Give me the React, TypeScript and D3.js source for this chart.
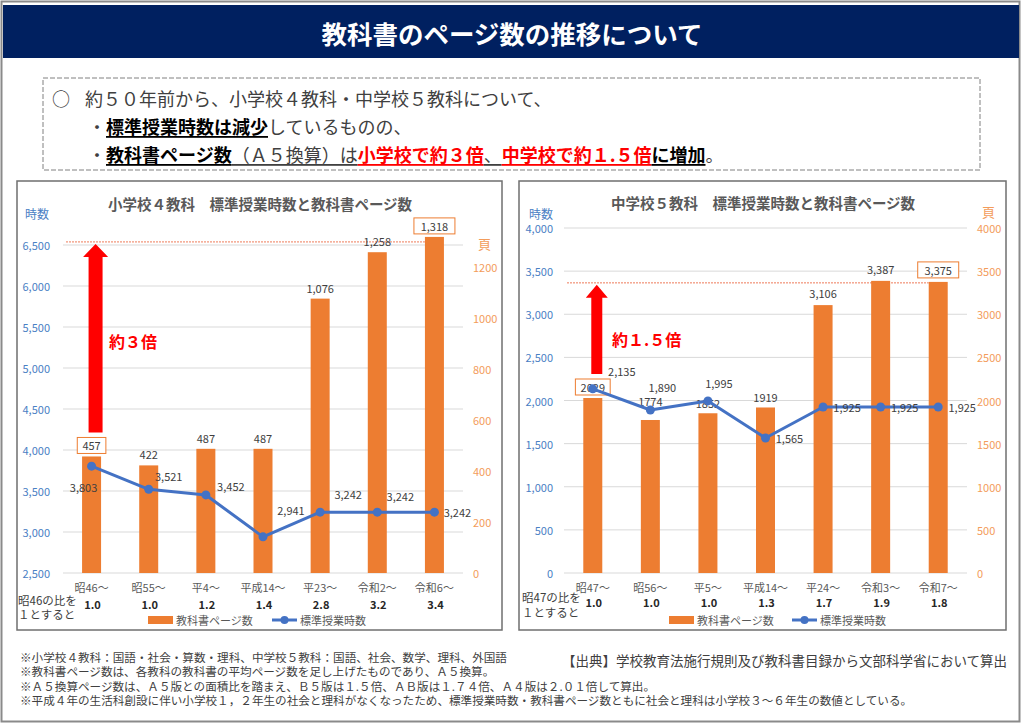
import React from 'react';
import * as d3 from 'd3';

// ---------- data ----------
const catsL = ['昭46～', '昭55～', '平4～', '平成14～', '平23～', '令和2～', '令和6～'];
const pagesL = [457, 422, 487, 487, 1076, 1258, 1318];
const hoursL = [3803, 3521, 3452, 2941, 3242, 3242, 3242];
const ratioL = ['1.0', '1.0', '1.2', '1.4', '2.8', '3.2', '3.4'];
const hourTicksL = [2500, 3000, 3500, 4000, 4500, 5000, 5500, 6000, 6500];
const pageTicksL = [0, 200, 400, 600, 800, 1000, 1200];

const catsR = ['昭47～', '昭56～', '平5～', '平成14～', '平24～', '令和3～', '令和7～'];
const pagesR = [2029, 1774, 1852, 1919, 3106, 3387, 3375];
const pageLabelsR = ['2029', '1774', '1852', '1919', '3,106', '3,387', '3,375'];
const hoursR = [2135, 1890, 1995, 1565, 1925, 1925, 1925];
const ratioR = ['1.0', '1.0', '1.0', '1.3', '1.7', '1.9', '1.8'];
const hourTicksR = [0, 500, 1000, 1500, 2000, 2500, 3000, 3500, 4000];
const pageTicksR = [0, 500, 1000, 1500, 2000, 2500, 3000, 3500, 4000];

const footnotes = [
  '※小学校４教科：国語・社会・算数・理科、中学校５教科：国語、社会、数学、理科、外国語',
  '※教科書ページ数は、各教科の教科書の平均ページ数を足し上げたものであり、Ａ５換算。',
  '※Ａ５換算ページ数は、Ａ５版との面積比を踏まえ、Ｂ５版は１.５倍、ＡＢ版は１.７４倍、Ａ４版は２.０１倍して算出。',
  '※平成４年の生活科創設に伴い小学校１，２年生の社会と理科がなくなったため、標準授業時数・教科書ページ数ともに社会と理科は小学校３～６年生の数値としている。',
];

// ---------- style ----------
const FONT = '"Noto Sans CJK JP", "Noto Sans", sans-serif';
const ORANGE = '#ED7D31';
const BLUE = '#4472C4';
const TICK_BLUE = '#4A80C4';
const TICK_ORANGE = '#F39C5B';
const GRID = '#D9D9D9';
const TXT = '#404040';

type ChartProps = {
  panel: [number, number, number, number];
  title: string;
  titleX: number;
  titleY: number;
  cats: string[];
  pages: number[];
  pageLabels: string[];
  hours: number[];
  ratios: string[];
  hourTicks: number[];
  pageTicks: number[];
  hourFmt: (v: number) => string;
  xRange: [number, number];
  hourDomain: [number, number];
  hourRange: [number, number];
  pageDomain: [number, number];
  pageRange: [number, number];
  tickX: number;
  rightTickX: number;
  jisuPos: [number, number];
  pagePos: [number, number];
  notePos: [number, number, number];
  ratioY: number;
  legendRectX: number;
  legendLineX: number;
  lineLabelOff: [number, number][];
  barLift: number[];
  arrowHalf: [number, number];
  arrowText: string;
  arrowTextPos: [number, number];
  refOffset: number;
};

function Chart(p: ChartProps) {
  const x = d3.scalePoint<string>().domain(p.cats).range(p.xRange).padding(0.5);
  const yH = d3.scaleLinear().domain(p.hourDomain).range(p.hourRange);
  const yP = d3.scaleLinear().domain(p.pageDomain).range(p.pageRange);
  const barW = 19;
  const base = yP(0);
  const line = d3
    .line<number>()
    .x((_, i) => x(p.cats[i]) as number)
    .y((d) => yH(d));
  const n = p.cats.length;
  const refY = yP(d3.max(p.pages) as number) + p.refOffset;
  const lastX = (x(p.cats[n - 1]) as number) - barW / 2;
  const firstX = x(p.cats[0]) as number;
  const arrowCx = firstX + 4;
  const boxTop = yP(p.pages[0]) - p.barLift[0] - 8;
  const [sh, hh] = p.arrowHalf;
  const arrowPath = `M${arrowCx - sh},${boxTop - 5} L${arrowCx - sh},${refY + 15} L${arrowCx - hh},${refY + 15} L${arrowCx},${refY + 2} L${arrowCx + hh},${refY + 15} L${arrowCx + sh},${refY + 15} L${arrowCx + sh},${boxTop - 5} Z`;

  return (
    <g fontFamily={FONT}>
      <rect x={p.panel[0]} y={p.panel[1]} width={p.panel[2]} height={p.panel[3]} fill="#fff" stroke="#6f6f6f" strokeWidth={1.5} />
      <text x={p.titleX} y={p.titleY} textAnchor="middle" dominantBaseline="central" fontSize={14.5} fontWeight={700} fill="#595959">
        {p.title}
      </text>
      <text x={p.jisuPos[0]} y={p.jisuPos[1]} dominantBaseline="central" fontSize={12} fill={TICK_BLUE}>時数</text>
      <text x={p.pagePos[0]} y={p.pagePos[1]} dominantBaseline="central" fontSize={13} fill={TICK_ORANGE}>頁</text>
      {/* grid */}
      {p.hourTicks.map((t) => (
        <g key={t}>
          <line x1={p.xRange[0]} x2={p.xRange[1]} y1={yH(t)} y2={yH(t)} stroke={GRID} strokeWidth={1} />
          <text x={p.tickX} y={yH(t)} textAnchor="end" dominantBaseline="central" fontSize={11} fill={TICK_BLUE}>
            {p.hourFmt(t)}
          </text>
        </g>
      ))}
      {p.pageTicks.map((t) => (
        <text key={t} x={p.rightTickX} y={yP(t)} dominantBaseline="central" fontSize={11} fill={TICK_ORANGE}>
          {t}
        </text>
      ))}
      {/* reference dotted line */}
      <line x1={p.xRange[0] + 3} x2={lastX} y1={refY} y2={refY} stroke="#EE7B5A" strokeWidth={1} strokeDasharray="2,1" />
      {/* bars */}
      {p.pages.map((v, i) => (
        <rect key={i} x={(x(p.cats[i]) as number) - barW / 2} y={yP(v)} width={barW} height={base - yP(v)} fill={ORANGE} />
      ))}
      {/* bar labels */}
      {p.pages.map((v, i) => {
        const cx = x(p.cats[i]) as number;
        const cy = yP(v) - p.barLift[i];
        const boxed = i === 0 || i === n - 1;
        const w = p.pageLabels[i].length * 6.2 + 10;
        return (
          <g key={i}>
            {boxed && <rect x={cx - w / 2} y={cy - 8} width={w} height={16} fill="#fff" stroke={ORANGE} strokeWidth={1} />}
            <text x={cx} y={cy} textAnchor="middle" dominantBaseline="central" fontSize={11} fill={TXT}>
              {p.pageLabels[i]}
            </text>
          </g>
        );
      })}
      {/* line */}
      <path d={line(p.hours) || ''} fill="none" stroke={BLUE} strokeWidth={3} strokeLinejoin="round" />
      {p.hours.map((v, i) => (
        <circle key={i} cx={x(p.cats[i]) as number} cy={yH(v)} r={4.5} fill={BLUE} />
      ))}
      {p.hours.map((v, i) => (
        <text
          key={i}
          x={(x(p.cats[i]) as number) + p.lineLabelOff[i][0]}
          y={yH(v) + p.lineLabelOff[i][1]}
          textAnchor="middle"
          dominantBaseline="central"
          fontSize={11}
          fill={TXT}
        >
          {d3.format(',')(v)}
        </text>
      ))}
      {/* arrow */}
      <path d={arrowPath} fill="#FF0000" />
      <text x={p.arrowTextPos[0]} y={p.arrowTextPos[1]} dominantBaseline="central" fontSize={16} fontWeight={700} fill="#FF0000">
        {p.arrowText}
      </text>
      {/* x labels */}
      {p.cats.map((c, i) => (
        <g key={c}>
          <text x={x(c) as number} y={587} textAnchor="middle" dominantBaseline="central" fontSize={11} fill="#595959">
            {c}
          </text>
          <text x={(x(c) as number) + 1} y={p.ratioY} textAnchor="middle" dominantBaseline="central" fontSize={11} fontWeight={700} fill="#262626">
            {p.ratios[i]}
          </text>
        </g>
      ))}
      <text x={p.notePos[0]} y={p.notePos[1]} dominantBaseline="central" fontSize={11.5} fill={TXT}>
        {p.cats[0].replace('～', '')}の比を
      </text>
      <text x={p.notePos[0]} y={p.notePos[2]} dominantBaseline="central" fontSize={11.5} fill={TXT}>
        １とすると
      </text>
      {/* legend */}
      <rect x={p.legendRectX} y={616} width={25} height={8} fill={ORANGE} />
      <text x={p.legendRectX + 28} y={620} dominantBaseline="central" fontSize={11} fill="#595959">教科書ページ数</text>
      <line x1={p.legendLineX} x2={p.legendLineX + 25} y1={620} y2={620} stroke={BLUE} strokeWidth={3} />
      <circle cx={p.legendLineX + 12.5} cy={620} r={4} fill={BLUE} />
      <text x={p.legendLineX + 28} y={620} dominantBaseline="central" fontSize={11} fill="#595959">標準授業時数</text>
    </g>
  );
}

export default function App() {
  const fmtC = d3.format(',');
  return (
    <svg width={1024} height={724} style={{ position: 'absolute', left: 0, top: 0, background: '#fff' }} fontFamily={FONT}>
      <rect x={0} y={0} width={1024} height={724} fill="#fff" />
      <rect x={1.5} y={1.5} width={1018} height={720} fill="none" stroke="#8a8a8a" strokeWidth={2} />
      {/* header */}
      <rect x={3} y={5} width={1016} height={53} fill="#002060" />
      <text x={512} y={32} textAnchor="middle" dominantBaseline="central" fontSize={25.5} fontWeight={700} fill="#fff">
        教科書のページ数の推移について
      </text>
      {/* intro box */}
      <rect x={43} y={78} width={937} height={92} fill="#fff" stroke="#808080" strokeWidth={1} strokeDasharray="5,2" />
      <g fontSize={18}>
        <text x={52} y={98} dominantBaseline="central" fill={TXT}>○</text>
        <text x={85} y={98} dominantBaseline="central" fill={TXT}>約５０年前から、小学校４教科・中学校５教科について、</text>
        <text x={88} y={126} dominantBaseline="central" fill={TXT}>
          ・
          <tspan fontWeight={700} fill="#000" style={{ textDecoration: 'underline' }}>標準授業時数は減少</tspan>
          <tspan>しているものの、</tspan>
        </text>
        <text x={88} y={154} dominantBaseline="central" fill={TXT}>
          ・
          <tspan fontWeight={700} fill="#000" style={{ textDecoration: 'underline' }}>教科書ページ数</tspan>
          <tspan style={{ textDecoration: 'underline' }}>（Ａ５換算）は</tspan>
          <tspan fontWeight={700} fill="#FF0000" style={{ textDecoration: 'underline' }}>小学校で約３倍</tspan>
          <tspan style={{ textDecoration: 'underline' }}>、</tspan>
          <tspan fontWeight={700} fill="#FF0000" style={{ textDecoration: 'underline' }}>中学校で約１.５倍</tspan>
          <tspan fontWeight={700} fill="#000" style={{ textDecoration: 'underline' }}>に増加</tspan>
          <tspan>。</tspan>
        </text>
      </g>

      <Chart
        panel={[17, 181, 485, 449]}
        title="小学校４教科　標準授業時数と教科書ページ数"
        titleX={260}
        titleY={203}
        cats={catsL}
        pages={pagesL}
        pageLabels={pagesL.map((v) => fmtC(v))}
        hours={hoursL}
        ratios={ratioL}
        hourTicks={hourTicksL}
        pageTicks={pageTicksL}
        hourFmt={fmtC}
        xRange={[63, 463]}
        hourDomain={[2500, 6500]}
        hourRange={[573, 245]}
        pageDomain={[0, 1200]}
        pageRange={[573, 267]}
        tickX={50}
        rightTickX={473}
        jisuPos={[25, 213]}
        pagePos={[478, 243]}
        notePos={[18, 600, 614]}
        ratioY={604}
        legendRectX={148}
        legendLineX={272}
        lineLabelOff={[[-8, 21], [20, -13], [25, -9], [28, -27], [28, -18], [23, -16], [23, 0]]}
        barLift={[11, 11, 11, 11, 11, 11, 11]}
        arrowHalf={[7, 12.5]}
        arrowText="約３倍"
        arrowTextPos={[109, 341]}
        refOffset={5}
      />
      <Chart
        panel={[519, 181, 487, 449]}
        title="中学校５教科　標準授業時数と教科書ページ数"
        titleX={763}
        titleY={202}
        cats={catsR}
        pages={pagesR}
        pageLabels={pageLabelsR}
        hours={hoursR}
        ratios={ratioR}
        hourTicks={hourTicksR}
        pageTicks={pageTicksR}
        hourFmt={fmtC}
        xRange={[564, 967]}
        hourDomain={[0, 4000]}
        hourRange={[573, 228]}
        pageDomain={[0, 4000]}
        pageRange={[573, 228]}
        tickX={553}
        rightTickX={977}
        jisuPos={[529, 213]}
        pagePos={[982, 211]}
        notePos={[522, 597, 612]}
        ratioY={602}
        legendRectX={669}
        legendLineX={792}
        lineLabelOff={[[29, -18], [12, -23], [11, -18], [24, 0], [24, 0], [24, 0], [24, 0]]}
        barLift={[11, 19, 10, 10, 12, 12, 12]}
        arrowHalf={[5.5, 11]}
        arrowText="約１.５倍"
        arrowTextPos={[612, 339]}
        refOffset={2}
      />
      {/* footnotes */}
      {footnotes.map((t, i) => (
        <text key={i} x={20} y={657 + i * 14.3} dominantBaseline="central" fontSize={11.6} fill={TXT}>
          {t}
        </text>
      ))}
      <text x={562} y={660} dominantBaseline="central" fontSize={13.5} fill={TXT}>
        【出典】学校教育法施行規則及び教科書目録から文部科学省において算出
      </text>
    </svg>
  );
}
